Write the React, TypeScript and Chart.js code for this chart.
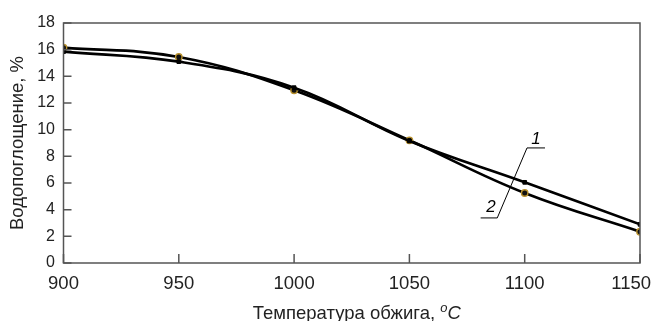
import { useEffect, useRef } from 'react';
import { Chart, registerables } from 'chart.js';

Chart.register(...registerables);

const temperatures = [900, 950, 1000, 1050, 1100, 1150];
const series1 = [15.85, 15.1, 13.15, 9.15, 6.05, 2.9];
const series2 = [16.15, 15.45, 12.95, 9.2, 5.25, 2.35];
const yTickValues = [0, 2, 4, 6, 8, 10, 12, 14, 16, 18];
const xTickValues = [900, 950, 1000, 1050, 1100, 1150];
const yTitle = 'Водопоглощение, %';
const xTitleMain = 'Температура обжига, ';
const xTitleSup = 'o';
const xTitleUnit = 'C';
// curve labels (data units): text position, underline from/to
const curveLabels = [
  { text: '1', x: 1104.9, y: 9.3, ux1: 1101.0, ux2: 1108.8, uy: 8.63 },
  { text: '2', x: 1085.4, y: 4.16, ux1: 1080.9, ux2: 1088.1, uy: 3.38 },
];

const FONT = '"Liberation Sans", Arial, Helvetica, sans-serif';
const AXIS_COLOR = '#555555';
const TEXT_COLOR = '#222222';

const decorPlugin = {
  id: 'decor',
  afterDraw(chart: any) {
    const ctx = chart.ctx;
    const { left, right, top, bottom } = chart.chartArea;
    const xs = chart.scales.x;
    const ys = chart.scales.y;
    ctx.save();
    // frame
    ctx.strokeStyle = AXIS_COLOR;
    ctx.lineWidth = 1.5;
    ctx.strokeRect(left, top, right - left, bottom - top);
    // inward ticks
    ctx.beginPath();
    yTickValues.forEach((v) => {
      const py = ys.getPixelForValue(v);
      ctx.moveTo(left, py);
      ctx.lineTo(left + 8, py);
    });
    xTickValues.forEach((v) => {
      const px = xs.getPixelForValue(v);
      ctx.moveTo(px, bottom);
      ctx.lineTo(px, bottom - 9);
    });
    ctx.stroke();

    // x tick labels (kept inside the canvas)
    ctx.fillStyle = TEXT_COLOR;
    ctx.font = `18.5px ${FONT}`;
    ctx.textAlign = 'center';
    ctx.textBaseline = 'alphabetic';
    xTickValues.forEach((v) => {
      const label = String(v);
      const w = ctx.measureText(label).width;
      const px = Math.min(xs.getPixelForValue(v), chart.width - 3 - w / 2);
      ctx.fillText(label, px, bottom + 26.3);
    });

    // curve labels
    ctx.strokeStyle = '#000';
    ctx.lineWidth = 1;
    ctx.fillStyle = '#000';
    ctx.font = `italic 17px ${FONT}`;
    ctx.textAlign = 'center';
    ctx.textBaseline = 'middle';
    curveLabels.forEach((l) => {
      ctx.fillText(l.text, xs.getPixelForValue(l.x), ys.getPixelForValue(l.y));
      ctx.beginPath();
      ctx.moveTo(xs.getPixelForValue(l.ux1), ys.getPixelForValue(l.uy));
      ctx.lineTo(xs.getPixelForValue(l.ux2), ys.getPixelForValue(l.uy));
      ctx.stroke();
    });
    // leader line
    ctx.beginPath();
    ctx.moveTo(xs.getPixelForValue(curveLabels[0].ux1), ys.getPixelForValue(curveLabels[0].uy));
    ctx.lineTo(xs.getPixelForValue(curveLabels[1].ux2), ys.getPixelForValue(curveLabels[1].uy));
    ctx.stroke();

    // x title with superscript
    ctx.textBaseline = 'alphabetic';
    ctx.textAlign = 'left';
    ctx.fillStyle = TEXT_COLOR;
    const mainFont = `18.5px ${FONT}`;
    const supFont = `italic 13px ${FONT}`;
    const unitFont = `italic 18.5px ${FONT}`;
    ctx.font = mainFont;
    const w1 = ctx.measureText(xTitleMain).width;
    ctx.font = supFont;
    const w2 = ctx.measureText(xTitleSup).width;
    ctx.font = unitFont;
    const w3 = ctx.measureText(xTitleUnit).width;
    const total = w1 + w2 + w3;
    let x = (left + right) / 2 + 5 - total / 2;
    const base = 318.5;
    ctx.font = mainFont;
    ctx.fillText(xTitleMain, x, base);
    x += w1;
    ctx.font = supFont;
    ctx.fillText(xTitleSup, x, base - 7);
    x += w2;
    ctx.font = unitFont;
    ctx.fillText(xTitleUnit, x, base);
    ctx.restore();
  },
};

export default function App() {
  const ref = useRef<HTMLCanvasElement>(null);
  useEffect(() => {
    if (!ref.current) return;
    const chart = new Chart(ref.current, {
      type: 'line',
      data: {
        datasets: [
          {
            label: '1',
            data: temperatures.map((t, i) => ({ x: t, y: series1[i] })),
            borderColor: '#000',
            borderWidth: 2.7,
            tension: 0.4,
            pointStyle: 'rect',
            pointRadius: 2.6,
            pointBackgroundColor: '#000',
            pointBorderColor: '#000',
            pointBorderWidth: 1,
          },
          {
            label: '2',
            data: temperatures.map((t, i) => ({ x: t, y: series2[i] })),
            borderColor: '#000',
            borderWidth: 2.7,
            tension: 0.4,
            pointStyle: 'circle',
            pointRadius: 3.2,
            pointBackgroundColor: '#111',
            pointBorderColor: '#b8902c',
            pointBorderWidth: 1.4,
          },
        ],
      },
      options: {
        responsive: false,
        animation: false,
        layout: { padding: { left: 0, top: 23, right: 14, bottom: 0 } },
        plugins: { legend: { display: false }, tooltip: { enabled: false } },
        scales: {
          x: {
            type: 'linear',
            min: 900,
            max: 1150,
            afterBuildTicks: (s: any) => {
              s.ticks = xTickValues.map((v) => ({ value: v }));
            },
            afterFit: (s: any) => {
              s.height = 58;
              s.paddingLeft = 0;
              s.paddingRight = 0;
            },
            grid: { display: false, drawTicks: false },
            border: { display: false },
            ticks: { display: false },
          },
          y: {
            type: 'linear',
            min: 0,
            max: 18,
            afterBuildTicks: (s: any) => {
              s.ticks = yTickValues.map((v) => ({ value: v }));
            },
            afterFit: (s: any) => {
              s.width = 63.5;
              s.paddingTop = 0;
              s.paddingBottom = 0;
            },
            grid: { display: false, drawTicks: false },
            border: { display: false },
            title: {
              display: true,
              text: yTitle,
              color: TEXT_COLOR,
              font: { family: FONT, size: 18.5 },
              padding: { top: 7, bottom: 4 },
            },
            ticks: {
              color: TEXT_COLOR,
              font: { family: FONT, size: 16 },
              padding: 8.5,
              autoSkip: false,
              callback: (v: any) => String(v),
            },
          },
        },
      },
      plugins: [decorPlugin],
    });
    return () => chart.destroy();
  }, []);
  return (
    <div style={{ position: 'fixed', left: 0, top: 0, width: 654, height: 321, background: '#fff' }}>
      <canvas ref={ref} width={654} height={321} style={{ display: 'block' }} />
    </div>
  );
}
